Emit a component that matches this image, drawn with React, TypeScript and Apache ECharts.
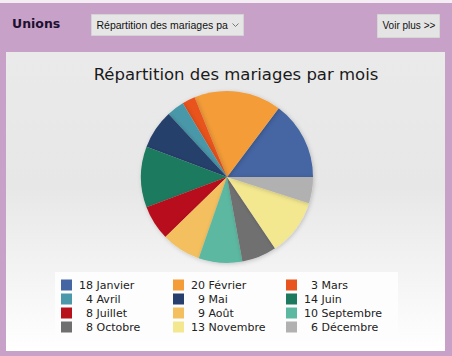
import React, { useEffect, useRef } from "react";
import * as echarts from "echarts";

const months = [
  "Janvier", "Février", "Mars", "Avril", "Mai", "Juin",
  "Juillet", "Août", "Septembre", "Octobre", "Novembre", "Décembre",
];
const counts = [18, 20, 3, 4, 9, 14, 8, 9, 10, 8, 13, 6];
const colors = [
  "#4565a3", "#f39c38", "#e9531e", "#4a98a9", "#273f6c", "#1d7a5f",
  "#b7111b", "#f3bf5f", "#5bb8a1", "#6f6f6f", "#f3e790", "#b1b1b1",
];
const chartTitle = "Répartition des mariages par mois";
const headerTitle = "Unions";
const selectText = "Répartition des mariages par mois";
const buttonText = "Voir plus >>";

export default function App() {
  const ref = useRef<HTMLDivElement>(null);
  useEffect(() => {
    if (!ref.current) return;
    const chart = echarts.init(ref.current, undefined, { renderer: "svg" });
    const valueOf: Record<string, number> = {};
    months.forEach((m, i) => (valueOf[m] = counts[i]));
    const colLefts = [61, 173, 286];
    const legends = colLefts.map((left, c) => ({
      orient: "vertical",
      left,
      top: 279,
      padding: 0,
      itemWidth: 11,
      itemHeight: 11,
      itemGap: 2,
      icon: "rect",
      data: months.filter((_, i) => i % 3 === c),
      formatter: (name: string) => {
        const v = valueOf[name];
        return (v < 10 ? "\u2007" : "") + v + " " + name;
      },
      textStyle: {
        fontFamily: "DejaVu Sans",
        fontSize: 11,
        lineHeight: 12,
        color: "#222",
        padding: [0, 0, 0, 2],
      },
    }));
    chart.setOption({
      animation: false,
      backgroundColor: "#c7a1c7",
      color: colors,
      graphic: [
        { type: "rect", z: -10, shape: { x: 0, y: 0, width: 452, height: 3 }, style: { fill: "#f4eef4" } },
        {
          type: "rect", z: -10,
          shape: { x: 6, y: 52, width: 439, height: 299 },
          style: {
            fill: new echarts.graphic.LinearGradient(0, 0, 0, 1, [
              { offset: 0, color: "#eaeaea" },
              { offset: 0.45, color: "#e7e7e7" },
              { offset: 1, color: "#ffffff" },
            ]),
          },
        },
        { type: "rect", z: -5, shape: { x: 55, y: 272, width: 343, height: 65 }, style: { fill: "#fdfdfd" } },
        {
          type: "text", left: 12, top: 17,
          style: { text: headerTitle, font: "bold 12.5px 'DejaVu Sans'", fill: "#1e1030" },
        },
        {
          type: "group", left: 91, top: 14,
          children: [
            { type: "rect", shape: { x: 0, y: 0, width: 152, height: 21 }, style: { fill: "#e6e6e6", stroke: "#d4d4d4", lineWidth: 1 } },
            {
              type: "text", x: 5, y: 5,
              style: {
                text: selectText, font: "10.5px 'Liberation Sans'", fill: "#111",
                width: 134, overflow: "truncate", ellipsis: "",
              },
            },
            { type: "polyline", shape: { points: [[141, 9], [144, 12], [147, 9]] }, style: { stroke: "#777", lineWidth: 1, fill: "none" } },
          ],
        },
        {
          type: "group", left: 377, top: 14,
          children: [
            { type: "rect", shape: { x: 0, y: 0, width: 62, height: 23 }, style: { fill: "#e4e4e4", stroke: "#d6d6d6", lineWidth: 1 } },
            { type: "text", x: 5, y: 6, style: { text: buttonText, font: "10px 'Liberation Sans'", fill: "#111" } },
          ],
        },
      ],
      title: {
        text: chartTitle,
        left: 231,
        textAlign: "center",
        top: 61,
        textStyle: { fontFamily: "DejaVu Sans", fontSize: 16.5, fontWeight: "normal", color: "#1a1a1a" },
      },
      legend: legends,
      series: [
        {
          type: "pie",
          center: [227, 177],
          radius: 86,
          startAngle: 0,
          clockwise: false,
          label: { show: false },
          labelLine: { show: false },
          emphasis: { disabled: true },
          itemStyle: {
            borderWidth: 0,
            shadowBlur: 4,
            shadowOffsetX: 1,
            shadowOffsetY: 1,
            shadowColor: "rgba(0,0,0,0.2)",
          },
          data: months.map((m, i) => ({ name: m, value: counts[i] })),
        },
      ],
    });
    return () => chart.dispose();
  }, []);
  return (
    <div
      ref={ref}
      style={{ position: "fixed", left: 0, top: 0, width: 452, height: 356 }}
    />
  );
}
